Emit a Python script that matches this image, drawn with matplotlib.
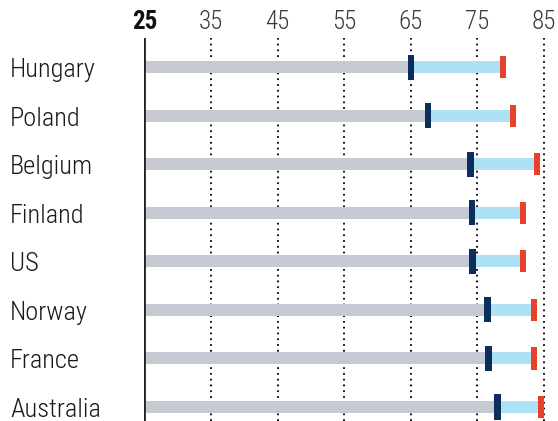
import matplotlib
matplotlib.use("Agg")
import matplotlib.pyplot as plt
from matplotlib import font_manager
from matplotlib.transforms import blended_transform_factory

countries = ["Hungary", "Poland", "Belgium", "Finland", "US", "Norway", "France", "Australia"]
low_vals = [65.0, 67.6, 74.0, 74.2, 74.3, 76.5, 76.7, 78.0]
high_vals = [78.8, 80.3, 83.9, 81.8, 81.8, 83.5, 83.5, 84.6]
ticks = [25, 35, 45, 55, 65, 75, 85]

font = "DejaVu Sans"
for f in font_manager.fontManager.ttflist:
    if f.fname.endswith("RobotoCondensed-Regular.ttf") or f.fname.endswith("RobotoCondensed[wght].ttf"):
        font = f.name
        break
plt.rcParams["font.family"] = [font, "DejaVu Sans"]

GREY = "#c6c9d2"
LIGHT = "#aee0f6"
DARK = "#0b2f5c"
RED = "#e8412b"

fig = plt.figure(figsize=(5.58, 4.21), dpi=100)
ax = fig.add_axes([144.5 / 558, 0, 1 - 144.5 / 558, 1 - 38 / 421])
ax.set_xlim(25, 87.1)
ax.set_ylim(7.29, -0.6)

for t in ticks[1:]:
    ax.axvline(t, color="black", linestyle=(0, (1, 2.2)), lw=1.3, zorder=0)
ax.axvline(25, color="#222222", lw=2, zorder=5)

ys = range(len(countries))
for y, lo, hi in zip(ys, low_vals, high_vals):
    ax.barh(y, lo - 25, left=25, height=0.25, color=GREY, zorder=1)
    ax.barh(y, hi - lo, left=lo, height=0.25, color=LIGHT, zorder=1)
    ax.barh(y, 1.0, left=lo - 0.5, height=0.52, color=DARK, zorder=3)
    ax.barh(y, 0.9, left=hi - 0.45, height=0.46, color=RED, zorder=3)

trans = blended_transform_factory(fig.transFigure, ax.transData)
ax.set_yticks(list(ys))
ax.set_yticklabels([])
for y, c in zip(ys, countries):
    ax.text(10 / 558, y + 0.06, c, transform=trans, fontsize=19, fontweight="light",
            ha="left", va="center", color="#1a1a1a")

ax.xaxis.tick_top()
ax.set_xticks(ticks)
ax.set_xticklabels([str(t) for t in ticks], fontsize=18, color="#3a3a3a",
                   fontweight="light")
ax.get_xticklabels()[0].set_fontweight("bold")
ax.get_xticklabels()[0].set_color("#111111")
ax.tick_params(axis="both", length=0, pad=3)
for s in ax.spines.values():
    s.set_visible(False)

fig.savefig("out.png", dpi=100)
